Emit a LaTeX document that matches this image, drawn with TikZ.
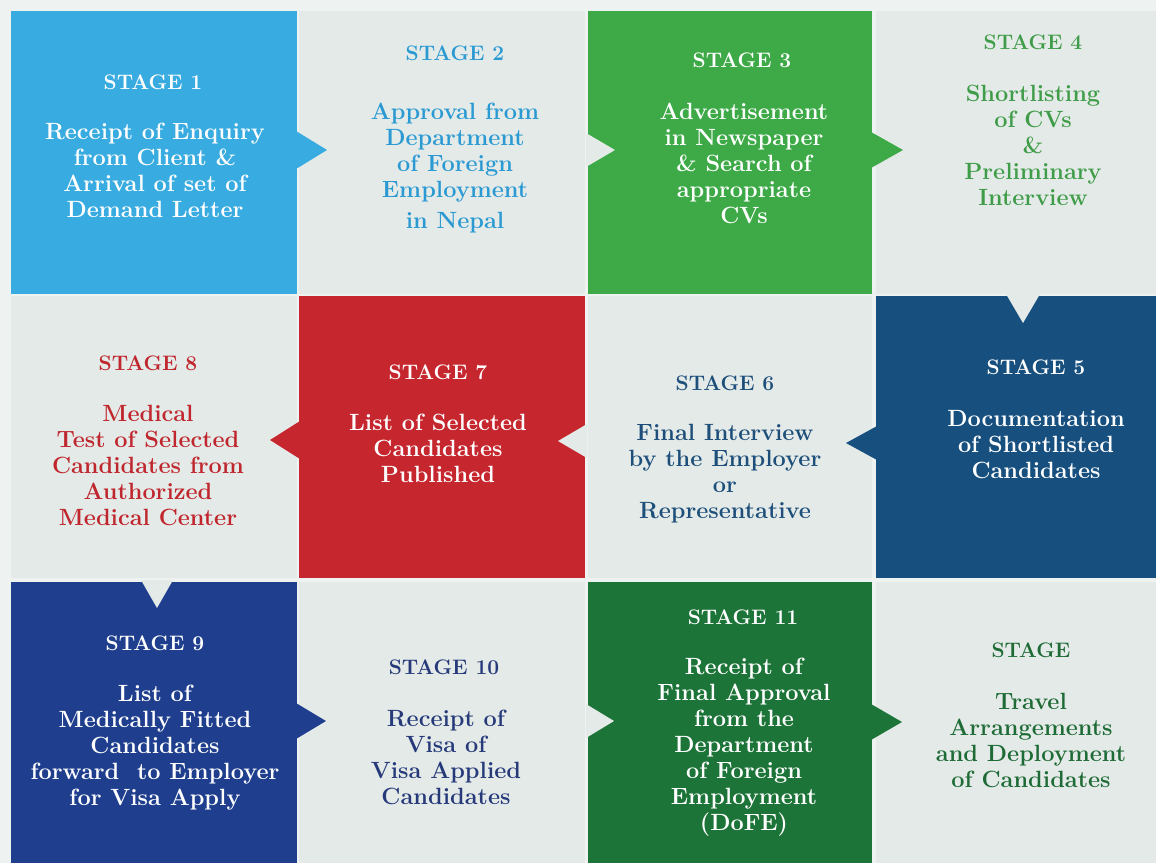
\documentclass[tikz,border=0pt]{standalone}
\usetikzlibrary{calc}
\definecolor{bgc}{HTML}{EEF2F1}
\definecolor{gt}{HTML}{E4EAE8}
\definecolor{c1}{HTML}{38ABE0}
\definecolor{c3}{HTML}{3DAA47}
\definecolor{c5}{HTML}{17507F}
\definecolor{c7}{HTML}{C6262E}
\definecolor{c9}{HTML}{1F3F8E}
\definecolor{c11}{HTML}{1D7438}
\definecolor{k2}{HTML}{2B9AD3}
\definecolor{k4}{HTML}{3F9C48}
\definecolor{k6}{HTML}{1D4F7A}
\definecolor{k8}{HTML}{C0262D}
\definecolor{k10}{HTML}{263A7A}
\definecolor{k12}{HTML}{1E6B35}
\tikzset{
  tile/.style={inner sep=0pt, outer sep=0pt, draw=none},
  head/.style={inner sep=0pt, font=\fontsize{21}{25}\selectfont\bfseries},
  body/.style={inner sep=0pt, align=center, font=\fontsize{23.5}{26}\selectfont\bfseries},
}
\begin{document}
\begin{tikzpicture}[x=1pt,y=-1pt]
\useasboundingbox (0,0) rectangle (1156,863);
\fill[bgc] (0,0) rectangle (1156,863);
% tiles
\node[tile,fill=c1,minimum width=286pt,minimum height=283pt] (t1) at (154,152.5) {};
\node[tile,fill=gt,minimum width=286pt,minimum height=283pt] (t2) at (442,152.5) {};
\node[tile,fill=c3,minimum width=284pt,minimum height=283pt] (t3) at (730,152.5) {};
\node[tile,fill=gt,minimum width=280pt,minimum height=283pt] (t4) at (1016,152.5) {};
\node[tile,fill=c5,minimum width=280pt,minimum height=282pt] (t5) at (1016,437) {};
\node[tile,fill=gt,minimum width=284pt,minimum height=282pt] (t6) at (730,437) {};
\node[tile,fill=c7,minimum width=286pt,minimum height=282pt] (t7) at (442,437) {};
\node[tile,fill=gt,minimum width=286pt,minimum height=282pt] (t8) at (154,437) {};
\node[tile,fill=c9,minimum width=286pt,minimum height=281pt] (t9) at (154,722.5) {};
\node[tile,fill=gt,minimum width=286pt,minimum height=281pt] (t10) at (442,722.5) {};
\node[tile,fill=c11,minimum width=284pt,minimum height=281pt] (t11) at (730,722.5) {};
\node[tile,fill=gt,minimum width=280pt,minimum height=281pt] (t12) at (1016,722.5) {};
% pointers and notches
\fill[c1] ($(t1.east)+(-1,-21.5)$) -- ($(t1.east)+(30,-2.5)$) -- ($(t1.east)+(-1,16.5)$) -- cycle;
\fill[gt] ($(t3.west)+(-2,-19.5)$) -- ($(t3.west)+(27,-2.5)$) -- ($(t3.west)+(-2,14.5)$) -- cycle;
\fill[c3] ($(t3.east)+(-1,-20.5)$) -- ($(t3.east)+(31,-2.5)$) -- ($(t3.east)+(-1,15.5)$) -- cycle;
\fill[gt] ($(t5.north)+(-10,-2)$) -- ($(t5.north)+(7,27)$) -- ($(t5.north)+(24,-2)$) -- cycle;
\fill[c5] ($(t5.west)+(1,-11)$) -- ($(t5.west)+(-30,6)$) -- ($(t5.west)+(1,23)$) -- cycle;
\fill[gt] ($(t7.east)+(2,-13)$) -- ($(t7.east)+(-27,4)$) -- ($(t7.east)+(2,21)$) -- cycle;
\fill[c7] ($(t7.west)+(1,-16)$) -- ($(t7.west)+(-29,3)$) -- ($(t7.west)+(1,22)$) -- cycle;
\fill[gt] ($(t9.north)+(-13,-2)$) -- ($(t9.north)+(3,26)$) -- ($(t9.north)+(19,-2)$) -- cycle;
\fill[c9] ($(t9.east)+(-1,-19.5)$) -- ($(t9.east)+(29,-1.5)$) -- ($(t9.east)+(-1,16.5)$) -- cycle;
\fill[gt] ($(t11.west)+(-2,-18.5)$) -- ($(t11.west)+(26,-1.5)$) -- ($(t11.west)+(-2,15.5)$) -- cycle;
\fill[c11] ($(t11.east)+(-1,-18.5)$) -- ($(t11.east)+(30,-0.5)$) -- ($(t11.east)+(-1,17.5)$) -- cycle;
% texts
\node[head,white] (h1) at (153,82) {STAGE 1};
\node[body,white] (b1) at (155,170) {Receipt of Enquiry\\from Client \&\\Arrival of set of\\Demand Letter};
\node[head,k2] (h2) at (455,53) {STAGE 2};
\node[body,k2] (b2) at (455,168) {Approval from\\Department\\of Foreign\\Employment\\[5pt]in Nepal};
\node[head,white] (h3) at (742,60) {STAGE 3};
\node[body,white] (b3) at (744,163) {Advertisement\\in Newspaper\\\& Search of\\appropriate\\CVs};
\node[head,k4] (h4) at (1033,42) {STAGE 4};
\node[body,k4] (b4) at (1033,145) {Shortlisting\\of CVs\\\&\\Preliminary\\Interview};
\node[head,white] (h5) at (1036,367) {STAGE 5};
\node[body,white] (b5) at (1036,445) {Documentation\\of Shortlisted\\Candidates};
\node[head,k6] (h6) at (725,383) {STAGE 6};
\node[body,k6] (b6) at (725,474) {Final Interview\\by the Employer\\or\\Representative};
\node[head,white] (h7) at (438,372) {STAGE 7};
\node[body,white] (b7) at (438,448) {List of Selected\\Candidates\\Published};
\node[head,k8] (h8) at (148,363) {STAGE 8};
\node[body,k8] (b8) at (148,465) {Medical\\Test of Selected\\Candidates from\\Authorized\\Medical Center};
\node[head,white] (h9) at (155,643) {STAGE 9};
\node[body,white] (b9) at (155,748) {List of\\Medically Fitted\\Candidates\\forward\ \ to Employer\\for Visa Apply};
\node[head,k10] (h10) at (444,667) {STAGE 10};
\node[body,k10] (b10) at (446,757.5) {Receipt of\\Visa of\\Visa Applied\\Candidates};
\node[head,white] (h11) at (743,617) {STAGE 11};
\node[body,white] (b11) at (744,747) {Receipt of\\Final Approval\\from the\\Department\\of Foreign\\Employment\\(DoFE)};
\node[head,k12] (h12) at (1031,650) {STAGE};
\node[body,k12] (b12) at (1031,740) {Travel\\Arrangements\\and Deployment\\of Candidates};
\end{tikzpicture}
\end{document}
